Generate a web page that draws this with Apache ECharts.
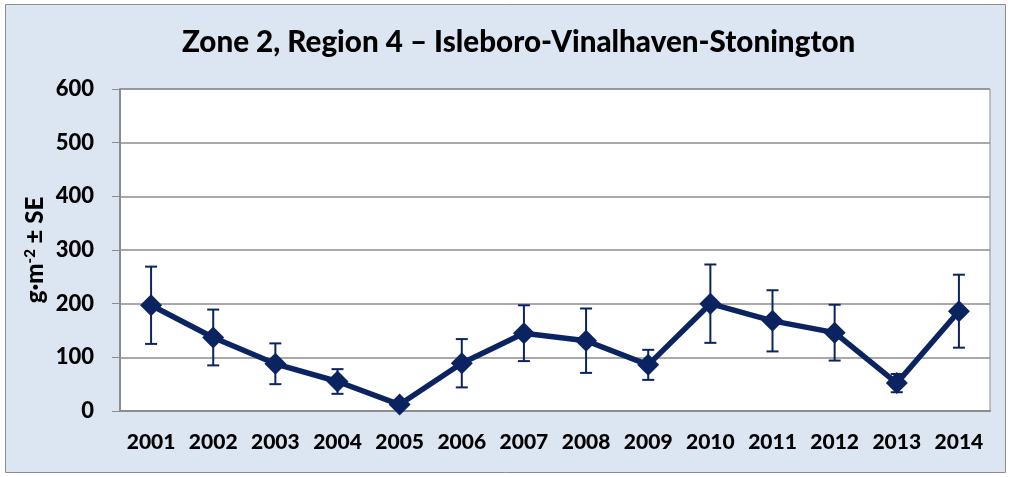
<!DOCTYPE html>
<html>
<head>
<meta charset="utf-8">
<script src="https://cdn.jsdelivr.net/npm/echarts@6/dist/echarts.min.js"></script>
<style>
  html, body { margin: 0; padding: 0; background: #ffffff; }
  #main { width: 1013px; height: 477px; }
</style>
</head>
<body>
<div id="main"></div>
<script>
// data
var years = ['2001','2002','2003','2004','2005','2006','2007','2008','2009','2010','2011','2012','2013','2014'];
var means = [197, 137, 88, 55, 12, 89, 145, 131, 86, 200, 168, 146, 52, 186];
var se = [72, 52, 38, 23, 3, 45, 52, 60, 28, 73, 57, 52, 17, 68];
var yTicks = [0, 100, 200, 300, 400, 500, 600];

var navy = '#0b2461';
var font = 'Lato, "Liberation Sans", sans-serif';

var errData = years.map(function (y, i) { return [i, means[i] - se[i], means[i] + se[i]]; });

var chart = echarts.init(document.getElementById('main'));
var option = {
  backgroundColor: '#ffffff',
  animation: false,
  graphic: [{
    type: 'rect', z: -10, silent: true,
    shape: { x: 5.5, y: 4.5, width: 1000, height: 468 },
    style: { fill: '#dce6f2', stroke: '#8c8c8c', lineWidth: 1 }
  }],
  title: {
    text: 'Zone 2, Region 4 – Isleboro-Vinalhaven-Stonington',
    left: 177,
    top: 22,
    textStyle: { fontFamily: font, fontWeight: 900, fontSize: 29.6, color: '#000' }
  },
  grid: {
    left: 120, right: 23, top: 89, bottom: 66,
    show: true, backgroundColor: '#ffffff', borderColor: '#8c8c8c', borderWidth: 1
  },
  xAxis: {
    type: 'category',
    data: years,
    boundaryGap: true,
    axisLine: { lineStyle: { color: '#8c8c8c', width: 2 } },
    axisTick: { show: false },
    axisLabel: { interval: 0, margin: 21, fontFamily: font, fontWeight: 900, fontSize: 21, color: '#000' }
  },
  yAxis: {
    type: 'value',
    min: yTicks[0], max: yTicks[yTicks.length - 1], interval: 100,
    name: '{a|g·m}{s|-2}{a| ± SE}',
    nameLocation: 'middle',
    nameGap: 72,
    nameMoveOverlap: false,
    nameRotate: 90,
    nameTextStyle: {
      rich: {
        a: { fontFamily: font, fontWeight: 900, fontSize: 24, color: '#000' },
        s: { fontFamily: font, fontWeight: 900, fontSize: 15, color: '#000', verticalAlign: 'top', padding: [0, 0, 10, 0] }
      }
    },
    axisLine: { show: true, lineStyle: { color: '#8c8c8c', width: 2 } },
    axisTick: { show: true, inside: false, length: 8, lineStyle: { color: '#8c8c8c', width: 1 } },
    splitLine: { lineStyle: { color: '#8c8c8c', width: 1.5 } },
    axisLabel: { margin: 26, fontFamily: font, fontWeight: 900, fontSize: 22, color: '#000' }
  },
  series: [
    {
      type: 'custom',
      z: 3,
      data: errData,
      renderItem: function (params, api) {
        var x = api.value(0);
        var lo = api.coord([x, api.value(1)]);
        var hi = api.coord([x, api.value(2)]);
        var w = 6;
        var st = { stroke: navy, lineWidth: 2 };
        return {
          type: 'group',
          children: [
            { type: 'line', shape: { x1: lo[0], y1: lo[1], x2: hi[0], y2: hi[1] }, style: st },
            { type: 'line', shape: { x1: lo[0] - w, y1: lo[1], x2: lo[0] + w, y2: lo[1] }, style: st },
            { type: 'line', shape: { x1: hi[0] - w, y1: hi[1], x2: hi[0] + w, y2: hi[1] }, style: st }
          ]
        };
      }
    },
    {
      type: 'line',
      z: 4,
      data: means,
      symbol: 'diamond',
      symbolSize: 22,
      itemStyle: { color: navy },
      lineStyle: { color: navy, width: 5.5 }
    }
  ]
};
chart.setOption(option);
</script>
</body>
</html>
